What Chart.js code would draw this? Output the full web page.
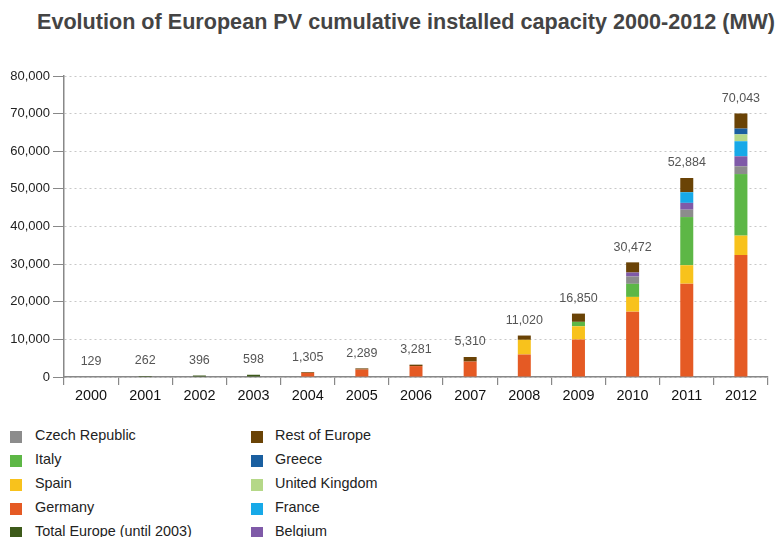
<!DOCTYPE html>
<html>
<head>
<meta charset="utf-8">
<script src="https://cdn.jsdelivr.net/npm/chart.js@4"></script>
<style>
  html, body { margin:0; padding:0; background:#fff; width:779px; height:537px; overflow:hidden; font-family:"Liberation Sans", Arial, sans-serif; }
  #title { position:absolute; left:37px; top:9px; font-size:21.6px; font-weight:bold; color:#444; white-space:nowrap; }
  #wrap { position:absolute; left:0; top:0; width:779px; height:420px; }
  .lg { position:absolute; font-size:14.4px; color:#222; white-space:nowrap; }
  .sw { position:absolute; width:12px; height:12px; }
</style>
</head>
<body>
<div id="title">Evolution of European PV cumulative installed capacity 2000-2012 (MW)</div>
<div id="wrap"><canvas id="c"></canvas></div>
<div id="legend"></div>
<script>
const categories = ['2000','2001','2002','2003','2004','2005','2006','2007','2008','2009','2010','2011','2012'];
const totals      = [129, 262, 396, 598, 1305, 2289, 3281, 5310, 11020, 16850, 30472, 52884, 70043];
const totalEurope = [129, 262, 396, 598, 0, 0, 0, 0, 0, 0, 0, 0, 0];
const germany     = [0, 0, 0, 0, 1105, 1980, 2899, 4100, 5979, 9959, 17370, 24807, 32411];
const spain       = [0, 0, 0, 0, 0, 0, 0, 0, 3900, 3520, 3915, 4900, 5166];
const italy       = [0, 0, 0, 0, 0, 0, 0, 0, 0, 1181, 3478, 12803, 16361];
const czech       = [0, 0, 0, 0, 0, 0, 0, 0, 0, 0, 1953, 1959, 2072];
const belgium     = [0, 0, 0, 0, 0, 0, 0, 0, 0, 0, 1055, 1812, 2650];
const france      = [0, 0, 0, 0, 0, 0, 0, 0, 0, 0, 0, 2831, 4003];
const uk          = [0, 0, 0, 0, 0, 0, 0, 0, 0, 0, 0, 0, 1829];
const greece      = [0, 0, 0, 0, 0, 0, 0, 0, 0, 0, 0, 0, 1536];
const rest        = [0, 0, 0, 0, 200, 309, 382, 1210, 1141, 2190, 2701, 3772, 4015];
const yTicks      = [0, 10000, 20000, 30000, 40000, 50000, 60000, 70000, 80000];

const series = [
  {label:'Total Europe (until 2003)', data: totalEurope, color:'#3d5a1a'},
  {label:'Germany', data: germany, color:'#e55a24'},
  {label:'Spain', data: spain, color:'#f8c21c'},
  {label:'Italy', data: italy, color:'#5db746'},
  {label:'Czech Republic', data: czech, color:'#8c8c8c'},
  {label:'Belgium', data: belgium, color:'#7f5aa8'},
  {label:'France', data: france, color:'#17a9e8'},
  {label:'United Kingdom', data: uk, color:'#b5d888'},
  {label:'Greece', data: greece, color:'#1a5fa0'},
  {label:'Rest of Europe', data: rest, color:'#6a4306'}
];

// legend (HTML)
const legendCols = [
  ['Czech Republic','Italy','Spain','Germany','Total Europe (until 2003)'],
  ['Rest of Europe','Greece','United Kingdom','France','Belgium']
];
const lg = document.getElementById('legend');
legendCols.forEach((col, ci) => {
  col.forEach((name, ri) => {
    const s = series.find(d => d.label === name);
    const cy = 437 + ri * 24;
    const sw = document.createElement('div');
    sw.className = 'sw';
    sw.style.left = (ci === 0 ? 10 : 251) + 'px';
    sw.style.top = (cy - 6) + 'px';
    sw.style.background = s.color;
    lg.appendChild(sw);
    const t = document.createElement('div');
    t.className = 'lg';
    t.textContent = name;
    t.style.left = (ci === 0 ? 35 : 275) + 'px';
    t.style.top = (cy - 10) + 'px';
    lg.appendChild(t);
  });
});

const totalsPlugin = {
  id: 'totals',
  afterDatasetsDraw(chart) {
    const ctx = chart.ctx, xs = chart.scales.x, ys = chart.scales.y;
    ctx.save();
    ctx.font = '12.5px "Liberation Sans", Arial, sans-serif';
    ctx.fillStyle = '#555';
    ctx.textAlign = 'center';
    ctx.textBaseline = 'middle';
    totals.forEach((v, i) => {
      ctx.fillText(v.toLocaleString('en-US'), xs.getPixelForValue(i), ys.getPixelForValue(v) - 15);
    });
    ctx.restore();
  }
};

new Chart(document.getElementById('c'), {
  type: 'bar',
  data: {
    labels: categories,
    datasets: series.map(s => ({
      label: s.label, data: s.data, backgroundColor: s.color,
      borderWidth: 0, categoryPercentage: 0.24, barPercentage: 1
    }))
  },
  options: {
    responsive: true,
    maintainAspectRatio: false,
    animation: false,
    layout: { padding: { left: 0, right: 11, top: 76, bottom: 0 } },
    plugins: { legend: { display: false }, tooltip: { enabled: false }, title: { display: false } },
    scales: {
      x: {
        stacked: true,
        afterFit(scale) { scale.height = 43; },
        grid: { offset: true, drawOnChartArea: false, drawTicks: true, tickLength: 8, color: '#888', tickColor: '#888', lineWidth: 1.2 },
        border: { display: true, color: '#888', width: 1.5 },
        ticks: { color: '#111', font: { size: 14.4, family: '"Liberation Sans", Arial, sans-serif' }, padding: 2, maxRotation: 0, autoSkip: false }
      },
      y: {
        stacked: true,
        min: 0, max: 80000,
        afterFit(scale) { scale.width = 64; },
        afterBuildTicks(scale) { scale.ticks = yTicks.map(v => ({ value: v })); },
        grid: { color: '#c8c8c8', tickColor: '#888', tickLength: 11, lineWidth: 1, tickBorderDash: [] },
        border: { display: true, color: '#888', width: 1.5, dash: [2, 3] },
        ticks: {
          color: '#222', padding: 3,
          font: { size: 13, family: '"Liberation Sans", Arial, sans-serif' },
          callback: v => v.toLocaleString('en-US')
        }
      }
    }
  },
  plugins: [totalsPlugin]
});
</script>
</body>
</html>
